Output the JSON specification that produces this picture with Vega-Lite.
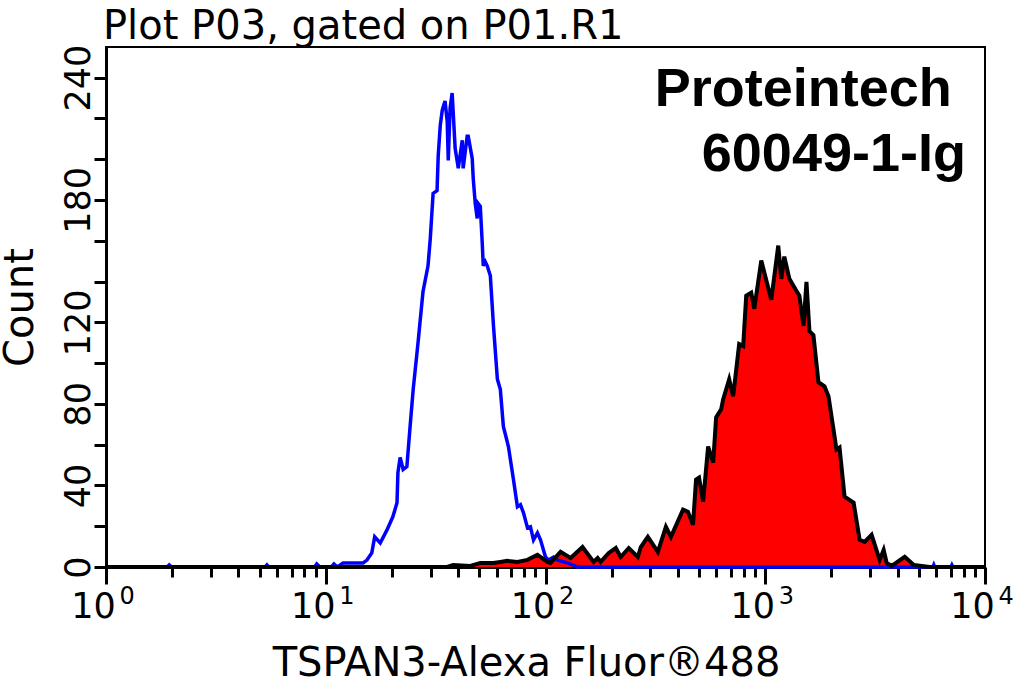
{
  "$schema": "https://vega.github.io/schema/vega-lite/v6.json",
  "width": 879,
  "height": 520,
  "autosize": {"type": "none"},
  "padding": {"left": 106, "top": 47, "right": 30, "bottom": 115},
  "background": "white",
  "title": {"text": "Plot P03, gated on P01.R1", "anchor": "start", "frame": "group", "font": "DejaVu Sans", "fontSize": 40, "fontWeight": "normal", "color": "black", "baseline": "alphabetic", "offset": 9, "dx": -3, "dy": 44},
  "config": {
    "view": {"stroke": "black", "strokeWidth": 2},
    "axis": {"grid": false, "domainColor": "black", "domainWidth": 3, "tickColor": "black", "tickWidth": 3, "labelColor": "black", "labelFont": "DejaVu Sans", "titleFont": "DejaVu Sans", "titleColor": "black", "titleFontWeight": "normal", "titleFontSize": 40, "labelOverlap": false, "labelFlush": false, "labelBound": false}
  },
  "resolve": {"axis": {"x": "independent"}},
  "datasets": {
    "control": [
      {"fluorescence": 1, "count": 0}, {"fluorescence": 1.9, "count": 0}, {"fluorescence": 1.94, "count": 1}, {"fluorescence": 1.99, "count": 0},
      {"fluorescence": 5.3, "count": 0}, {"fluorescence": 5.4, "count": 1}, {"fluorescence": 5.5, "count": 0},
      {"fluorescence": 8.9, "count": 0}, {"fluorescence": 9.1, "count": 1.5}, {"fluorescence": 9.4, "count": 0},
      {"fluorescence": 10.6, "count": 0}, {"fluorescence": 10.9, "count": 1.5}, {"fluorescence": 11.3, "count": 0},
      {"fluorescence": 12.0, "count": 2}, {"fluorescence": 13.5, "count": 2}, {"fluorescence": 14.8, "count": 2},
      {"fluorescence": 15.4, "count": 3.4}, {"fluorescence": 16.2, "count": 6.9}, {"fluorescence": 16.7, "count": 14.8},
      {"fluorescence": 17.7, "count": 11.8}, {"fluorescence": 19.0, "count": 18.2}, {"fluorescence": 20.2, "count": 24.6},
      {"fluorescence": 21.1, "count": 31.5}, {"fluorescence": 21.3, "count": 46.3}, {"fluorescence": 21.8, "count": 53.7},
      {"fluorescence": 22.5, "count": 47.8}, {"fluorescence": 23.4, "count": 49.2}, {"fluorescence": 24.2, "count": 68.9},
      {"fluorescence": 25.0, "count": 87.1}, {"fluorescence": 26.3, "count": 110}, {"fluorescence": 27.7, "count": 135},
      {"fluorescence": 29.2, "count": 147.7}, {"fluorescence": 29.9, "count": 161}, {"fluorescence": 30.5, "count": 175.8},
      {"fluorescence": 30.8, "count": 183.2}, {"fluorescence": 32.1, "count": 184.6}, {"fluorescence": 32.5, "count": 201.9},
      {"fluorescence": 33.2, "count": 216.6}, {"fluorescence": 33.9, "count": 224}, {"fluorescence": 34.9, "count": 228.5},
      {"fluorescence": 35.7, "count": 218.6}, {"fluorescence": 36.1, "count": 199.4}, {"fluorescence": 36.8, "count": 225},
      {"fluorescence": 37.6, "count": 232.4}, {"fluorescence": 38.0, "count": 223.5}, {"fluorescence": 38.8, "count": 205.3},
      {"fluorescence": 40.1, "count": 195.5}, {"fluorescence": 41.8, "count": 209.3}, {"fluorescence": 42.2, "count": 195.5},
      {"fluorescence": 44.0, "count": 211.2}, {"fluorescence": 44.5, "count": 211.2}, {"fluorescence": 46.4, "count": 200.4},
      {"fluorescence": 46.9, "count": 190.5}, {"fluorescence": 47.9, "count": 178.2}, {"fluorescence": 48.9, "count": 170.9},
      {"fluorescence": 49.4, "count": 178.2}, {"fluorescence": 50.5, "count": 176.8}, {"fluorescence": 51.5, "count": 159.5},
      {"fluorescence": 52.1, "count": 147.7}, {"fluorescence": 53.2, "count": 149.7}, {"fluorescence": 54.3, "count": 147.7},
      {"fluorescence": 56.1, "count": 142.8}, {"fluorescence": 58.0, "count": 118}, {"fluorescence": 60.4, "count": 92.1},
      {"fluorescence": 62.3, "count": 87.1}, {"fluorescence": 64.3, "count": 68.9}, {"fluorescence": 67.8, "count": 59.1},
      {"fluorescence": 71.5, "count": 42.8}, {"fluorescence": 74.5, "count": 29.5}, {"fluorescence": 76.9, "count": 30.5},
      {"fluorescence": 79.4, "count": 26.6}, {"fluorescence": 82.8, "count": 19.2}, {"fluorescence": 85.4, "count": 19.7},
      {"fluorescence": 88.2, "count": 13.3}, {"fluorescence": 91.9, "count": 16.7}, {"fluorescence": 94.9, "count": 13.3},
      {"fluorescence": 100, "count": 4.9}, {"fluorescence": 103.2, "count": 3.4}, {"fluorescence": 108.8, "count": 4.9},
      {"fluorescence": 113.5, "count": 3.4}, {"fluorescence": 126, "count": 2}, {"fluorescence": 140, "count": 0},
      {"fluorescence": 5800, "count": 0}, {"fluorescence": 5850, "count": 1}, {"fluorescence": 5900, "count": 0},
      {"fluorescence": 7000, "count": 0}, {"fluorescence": 7070, "count": 1}, {"fluorescence": 7150, "count": 0},
      {"fluorescence": 10000, "count": 0}
    ],
    "sample": [
      {"fluorescence": 1, "count": 0}, {"fluorescence": 35.7, "count": 0}, {"fluorescence": 38.0, "count": 1},
      {"fluorescence": 45.5, "count": 0.5}, {"fluorescence": 50.5, "count": 2}, {"fluorescence": 57.9, "count": 2},
      {"fluorescence": 62.3, "count": 2.5}, {"fluorescence": 67.0, "count": 3}, {"fluorescence": 74.5, "count": 2.5},
      {"fluorescence": 82.8, "count": 3.5}, {"fluorescence": 91.9, "count": 6}, {"fluorescence": 102.1, "count": 2.5},
      {"fluorescence": 105.4, "count": 2}, {"fluorescence": 117.1, "count": 7.4}, {"fluorescence": 130.1, "count": 4.4},
      {"fluorescence": 147.4, "count": 9.8}, {"fluorescence": 165.6, "count": 2.5}, {"fluorescence": 172.7, "count": 4.4},
      {"fluorescence": 178.2, "count": 2.5}, {"fluorescence": 194.0, "count": 6.9}, {"fluorescence": 208.9, "count": 9.3},
      {"fluorescence": 219.9, "count": 4.9}, {"fluorescence": 239.3, "count": 9.3}, {"fluorescence": 263.0, "count": 4.9},
      {"fluorescence": 271.5, "count": 9.8}, {"fluorescence": 292.2, "count": 14.8}, {"fluorescence": 324.5, "count": 7.4},
      {"fluorescence": 353.1, "count": 19.7}, {"fluorescence": 372.2, "count": 14.8}, {"fluorescence": 422.4, "count": 28.1},
      {"fluorescence": 444.9, "count": 27.1}, {"fluorescence": 469.1, "count": 20.7}, {"fluorescence": 484.2, "count": 42.8},
      {"fluorescence": 499.8, "count": 43.8}, {"fluorescence": 521.5, "count": 32.0}, {"fluorescence": 549.6, "count": 59.1},
      {"fluorescence": 579.4, "count": 51.2}, {"fluorescence": 597.6, "count": 73.4}, {"fluorescence": 630.0, "count": 77.3},
      {"fluorescence": 643.2, "count": 82.2}, {"fluorescence": 685.2, "count": 92.1}, {"fluorescence": 714.5, "count": 83.7},
      {"fluorescence": 760.9, "count": 109.3}, {"fluorescence": 793.7, "count": 108.3}, {"fluorescence": 819.2, "count": 133.0},
      {"fluorescence": 863.4, "count": 134.5}, {"fluorescence": 891.6, "count": 126.6}, {"fluorescence": 959.2, "count": 150.3},
      {"fluorescence": 1065, "count": 131.0}, {"fluorescence": 1146, "count": 157.6}, {"fluorescence": 1183, "count": 141.3},
      {"fluorescence": 1221, "count": 152.2}, {"fluorescence": 1288, "count": 141.3}, {"fluorescence": 1387, "count": 135.4},
      {"fluorescence": 1430, "count": 133.0}, {"fluorescence": 1493, "count": 118.2}, {"fluorescence": 1540, "count": 139.8},
      {"fluorescence": 1589, "count": 115.7}, {"fluorescence": 1657, "count": 113.7}, {"fluorescence": 1746, "count": 90.6},
      {"fluorescence": 1860, "count": 88.6}, {"fluorescence": 1940, "count": 83.7}, {"fluorescence": 2110, "count": 57.6},
      {"fluorescence": 2178, "count": 58.6}, {"fluorescence": 2296, "count": 34.5}, {"fluorescence": 2525, "count": 31.5},
      {"fluorescence": 2688, "count": 13.3}, {"fluorescence": 2833, "count": 12.3}, {"fluorescence": 3048, "count": 15.8},
      {"fluorescence": 3317, "count": 3.4}, {"fluorescence": 3458, "count": 8.4}, {"fluorescence": 3570, "count": 2},
      {"fluorescence": 3761, "count": 0.5}, {"fluorescence": 4312, "count": 5}, {"fluorescence": 4743, "count": 1},
      {"fluorescence": 5155, "count": 0.5}, {"fluorescence": 5600, "count": 0}, {"fluorescence": 10000, "count": 0}
    ]
  },
  "layer": [
    {
      "data": {"name": "sample"},
      "mark": {"type": "area", "color": "#ff0000", "interpolate": "linear"},
      "encoding": {
        "x": {
          "field": "fluorescence", "type": "quantitative",
          "scale": {"type": "log", "domain": [1, 10000], "nice": false},
          "axis": {
            "orient": "bottom",
            "values": [1,2,3,4,5,6,7,8,9,10,20,30,40,50,60,70,80,90,100,200,300,400,500,600,700,800,900,1000,2000,3000,4000,5000,6000,7000,8000,9000,10000],
            "labelExpr": "indexof([1,10,100,1000,10000], datum.value) >= 0 ? '10' : ''",
            "labelFontSize": 35,
            "labelBaseline": "alphabetic",
            "labelAlign": "center",
            "labelOffset": -13,
            "labelPadding": 33,
            "tickSize": {"condition": {"test": "indexof([1,10,100,1000,10000], datum.value) >= 0", "value": 17}, "value": 10},
            "title": "TSPAN3-Alexa Fluor®488",
            "titleX": 420, "titleY": 108, "titleAlign": "center", "titleBaseline": "alphabetic"
          }
        },
        "y": {
          "field": "count", "type": "quantitative",
          "scale": {"domain": [0, 255], "nice": false},
          "axis": {
            "values": [0,10,20,30,40,50,60,70,80,90,100,110,120,130,140,150,160,170,180,190,200,210,220,230,240,250],
            "labelExpr": "indexof([0,40,80,120,180,240], datum.value) >= 0 ? datum.label : ''",
            "labelAngle": -90, "labelAlign": "center", "labelBaseline": "alphabetic",
            "labelFontSize": 35, "labelPadding": 5, "tickSize": 12,
            "title": "Count", "titleAngle": -90, "titleX": -74, "titleY": 260, "titleAlign": "center", "titleBaseline": "alphabetic"
          }
        }
      }
    },
    {
      "data": {"name": "control"},
      "mark": {"type": "line", "color": "#0000ff", "strokeWidth": 3.5, "interpolate": "linear"},
      "encoding": {
        "x": {"field": "fluorescence", "type": "quantitative", "axis": null},
        "y": {"field": "count", "type": "quantitative"}
      }
    },
    {
      "data": {"name": "sample"},
      "mark": {"type": "line", "color": "black", "strokeWidth": 4, "interpolate": "linear"},
      "encoding": {
        "x": {
          "field": "fluorescence", "type": "quantitative",
          "axis": {
            "orient": "bottom",
            "values": [1, 10, 100, 1000, 10000],
            "labelExpr": "datum.value == 1 ? '0' : datum.value == 10 ? '1' : datum.value == 100 ? '2' : datum.value == 1000 ? '3' : '4'",
            "domain": false, "ticks": false,
            "labelFontSize": 24,
            "labelBaseline": "alphabetic",
            "labelAlign": "left",
            "labelOffset": 13,
            "labelPadding": 36,
            "title": null
          }
        },
        "y": {"field": "count", "type": "quantitative"}
      }
    },
    {
      "data": {"values": [{"label": "Proteintech"}]},
      "mark": {"type": "text", "font": "Liberation Sans", "fontWeight": "bold", "fontSize": 54, "align": "right", "baseline": "alphabetic", "color": "black"},
      "encoding": {
        "x": {"datum": 7066, "type": "quantitative", "axis": null},
        "y": {"datum": 226, "type": "quantitative"},
        "text": {"field": "label"}
      }
    },
    {
      "data": {"values": [{"label": "60049-1-Ig"}]},
      "mark": {"type": "text", "font": "Liberation Sans", "fontWeight": "bold", "fontSize": 54, "align": "right", "baseline": "alphabetic", "color": "black"},
      "encoding": {
        "x": {"datum": 8190, "type": "quantitative", "axis": null},
        "y": {"datum": 194, "type": "quantitative"},
        "text": {"field": "label"}
      }
    }
  ]
}
